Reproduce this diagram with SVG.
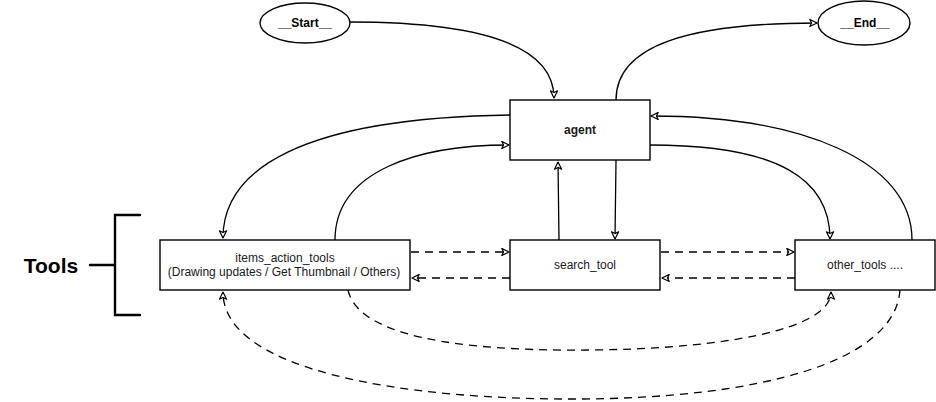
<svg xmlns="http://www.w3.org/2000/svg" width="936" height="402" viewBox="0 0 936 402">
<defs>
<marker id="arr" viewBox="0 0 10 10" refX="9" refY="5" markerWidth="9" markerHeight="9" markerUnits="userSpaceOnUse" orient="auto">
<path d="M1,1 L9,5 L1,9 L3,5 Z" fill="#fff" stroke="#000" stroke-width="1.3" stroke-linejoin="round"/>
</marker>
</defs>
<style>
.box{fill:#fff;stroke:#000;stroke-width:1.4}
.ell{fill:#fff;stroke:#000;stroke-width:1.4}
.lbl{font-family:"Liberation Sans",Arial,sans-serif;font-size:12px;fill:#1a1a1a;text-anchor:middle}
.hand{font-family:"Liberation Sans",Arial,sans-serif;font-weight:bold;fill:#000;text-anchor:middle}
.c{fill:none;stroke:#000;stroke-width:1.3;marker-end:url(#arr)}
.d{fill:none;stroke:#000;stroke-width:1.3;stroke-dasharray:8 6;marker-end:url(#arr)}
.br{fill:none;stroke:#000;stroke-width:2.4;stroke-linecap:round}
</style>
<g id="connectors">
<path class="c" d="M350,22 C480,22 554,45 554,98"/>
<path class="c" d="M616,100 C616,45 690,23 817,23"/>
<path class="c" d="M510,115 C300,118 223,170 223,238"/>
<path class="c" d="M335,240 C335,170 420,145 509,145"/>
<path class="c" d="M559,240 L558,162"/>
<path class="c" d="M616,160 L615,239"/>
<path class="c" d="M650,145 C780,145 830,180 830,239"/>
<path class="c" d="M912,240 C912,160 800,116 651,116"/>
<path class="d" d="M411,252 L509,252"/>
<path class="d" d="M510,278 L412,278"/>
<path class="d" d="M661,252 L794,252"/>
<path class="d" d="M795,278 L662,278"/>
<path class="d" d="M348,290 C360,345 500,351 590,350 C720,349 831,330 831,292"/>
<path class="d" d="M900,290 C895,362 760,398 580,399 C400,400 223,370 223,292"/>
</g>
<g id="start">
<ellipse class="ell" cx="305" cy="23" rx="45" ry="20"/>
<text class="hand" x="305" y="27" font-size="12">__Start__</text>
</g>
<g id="end">
<ellipse class="ell" cx="864" cy="23" rx="46" ry="22"/>
<text class="hand" x="865" y="27" font-size="12">__End__</text>
</g>
<g id="agent">
<rect class="box" x="510" y="100" width="140" height="60"/>
<text class="lbl" x="580" y="134" font-weight="bold">agent</text>
</g>
<g id="items_action_tools">
<rect class="box" x="160" y="240" width="250" height="50"/>
<text class="lbl" x="285" y="262">items_action_tools</text>
<text class="lbl" x="284" y="276">(Drawing updates / Get Thumbnail / Others)</text>
</g>
<g id="search_tool">
<rect class="box" x="510" y="240" width="150" height="50"/>
<text class="lbl" x="585" y="269">search_tool</text>
</g>
<g id="other_tools">
<rect class="box" x="795" y="240" width="140" height="50"/>
<text class="lbl" x="865" y="269">other_tools ....</text>
</g>
<g id="tools_group">
<text class="hand" x="51" y="273" font-size="21">Tools</text>
<path class="br" d="M90,265 L115,265 M140,215 L115,215 L115,315 L140,315"/>
</g>
</svg>
